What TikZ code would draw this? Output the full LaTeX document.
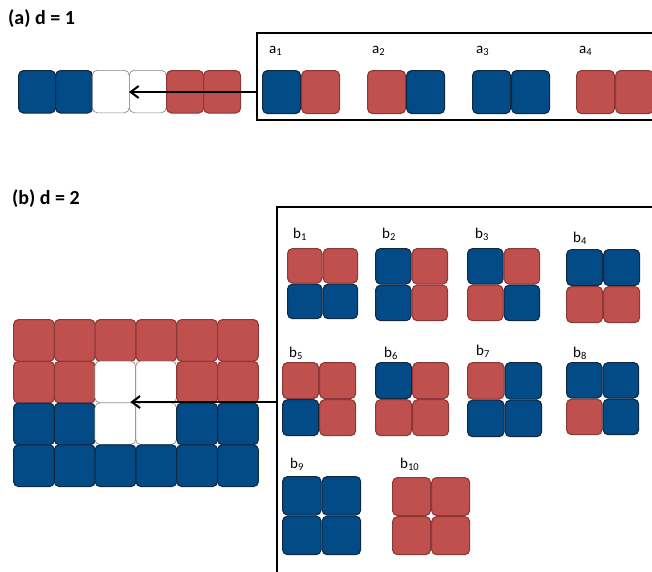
\documentclass[tikz,border=0pt]{standalone}
\usepackage{fontspec}
\setmainfont{Carlito}
\usetikzlibrary{positioning,arrows.meta}

\definecolor{cellred}{RGB}{192,80,77}
\definecolor{cellredline}{RGB}{140,56,54}
\definecolor{cellblue}{RGB}{2,75,134}
\definecolor{cellblueline}{RGB}{16,40,64}

\tikzset{
  cell/.style={draw, rounded corners=5pt, line width=1.1pt, inner sep=0pt},
  tile red/.style={cell, fill=cellred, draw=cellredline},
  tile blue/.style={cell, fill=cellblue, draw=cellblueline},
  tile empty/.style={cell, fill=white, draw=gray, line width=0.6pt},
  frame/.style={draw, line width=2.4pt},
  lbl/.style={anchor=base west, inner sep=0pt, font=\fontsize{15}{17}\selectfont},
  title/.style={anchor=base west, inner sep=0pt, font=\bfseries\fontsize{20}{22}\selectfont},
  hole/.style={-{Straight Barb[length=8pt,width=12pt]}, line width=2pt},
}

% two cells side by side: name, left edge, left colour, right colour
\newcommand{\pairtile}[4]{
  \node[tile #3, anchor=north west, minimum width=38pt, minimum height=43pt] (#1l) at (#2,70) {};
  \node[tile #4, minimum width=38pt, minimum height=43pt, right=0pt of #1l] (#1r) {};
}

% 2x2 cells: name, x, y, size, tl, tr, bl, br
\newcommand{\quadtile}[8]{
  \node[tile #5, anchor=north west, minimum width=#4pt, minimum height=#4pt] (#1tl) at (#2,#3) {};
  \node[tile #6, minimum width=#4pt, minimum height=#4pt, right=0pt of #1tl] (#1tr) {};
  \node[tile #7, minimum width=#4pt, minimum height=#4pt, below=0pt of #1tl] (#1bl) {};
  \node[tile #8, minimum width=#4pt, minimum height=#4pt, right=0pt of #1bl] (#1br) {};
}

\begin{document}
\begin{tikzpicture}[x=1pt,y=-1pt]
    \useasboundingbox (0,0) rectangle (652,571);

    % (a)
    \node[title] (ta) at (8,24) {(a) d = 1};
    \foreach \c [count=\i] in {blue,blue,empty,empty,red,red}
        \node[tile \c, anchor=north west, minimum width=37pt, minimum height=42.5pt] (s\i) at (18+37*\i-37,70) {};

    \draw[frame] (700,33) -- (257,33) -- (257,120) -- (700,120);
    \coordinate (aentry) at (257,92);
    \draw[hole] (aentry) -- (aentry -| s4.west);

    \pairtile{a1}{262}{blue}{red}
    \pairtile{a2}{367}{red}{blue}
    \pairtile{a3}{472}{blue}{blue}
    \pairtile{a4}{576}{red}{red}
    \node[lbl] (a1lbl) at (269,53) {a\textsubscript{1}};
    \node[lbl] (a2lbl) at (372,53) {a\textsubscript{2}};
    \node[lbl] (a3lbl) at (476,53) {a\textsubscript{3}};
    \node[lbl] (a4lbl) at (579,53) {a\textsubscript{4}};

    % (b)
    \node[title] (tb) at (12,204) {(b) d = 2};
    \foreach \c [count=\i from 0] in {red,red,red,red,red,red}
        \node[tile \c, anchor=north west, minimum width=40.8pt, minimum height=41.75pt] (g0-\i) at (13+40.8*\i,319) {};
    \foreach \c [count=\i from 0] in {red,red,empty,empty,red,red}
        \node[tile \c, anchor=north west, minimum width=40.8pt, minimum height=41.75pt] (g1-\i) at (13+40.8*\i,360.75) {};
    \foreach \c [count=\i from 0] in {blue,blue,empty,empty,blue,blue}
        \node[tile \c, anchor=north west, minimum width=40.8pt, minimum height=41.75pt] (g2-\i) at (13+40.8*\i,402.5) {};
    \foreach \c [count=\i from 0] in {blue,blue,blue,blue,blue,blue}
        \node[tile \c, anchor=north west, minimum width=40.8pt, minimum height=41.75pt] (g3-\i) at (13+40.8*\i,444.25) {};

    \draw[frame] (700,207) -- (277,207) -- (277,600);
    \coordinate (bentry) at (277,402);
    \draw[hole, shorten >=-5pt] (bentry) -- (bentry -| g1-3.south west);

    \quadtile{b1}{287}{248}{34.5}{red}{red}{blue}{blue}
    \quadtile{b2}{375}{248}{35.5}{blue}{red}{blue}{red}
    \quadtile{b3}{467}{248}{35.5}{blue}{red}{red}{blue}
    \quadtile{b4}{566}{249}{36}{blue}{blue}{red}{red}
    \quadtile{b5}{282}{362}{36}{red}{red}{blue}{red}
    \quadtile{b6}{375}{362}{36}{blue}{red}{red}{red}
    \quadtile{b7}{467}{362}{36.5}{red}{blue}{blue}{blue}
    \quadtile{b8}{566}{362}{35.5}{blue}{blue}{red}{blue}
    \quadtile{b9}{282}{476}{38.5}{blue}{blue}{blue}{blue}
    \quadtile{b10}{392}{477}{38}{red}{red}{red}{red}
    \node[lbl] (b1lbl) at (293,238) {b\textsubscript{1}};
    \node[lbl] (b2lbl) at (382,238) {b\textsubscript{2}};
    \node[lbl] (b3lbl) at (475,238) {b\textsubscript{3}};
    \node[lbl] (b4lbl) at (573,242) {b\textsubscript{4}};
    \node[lbl] (b5lbl) at (289,357) {b\textsubscript{5}};
    \node[lbl] (b6lbl) at (384,357) {b\textsubscript{6}};
    \node[lbl] (b7lbl) at (476,355) {b\textsubscript{7}};
    \node[lbl] (b8lbl) at (573,357) {b\textsubscript{8}};
    \node[lbl] (b9lbl) at (290,468) {b\textsubscript{9}};
    \node[lbl] (b10lbl) at (400,468) {b\textsubscript{10}};
\end{tikzpicture}
\end{document}
